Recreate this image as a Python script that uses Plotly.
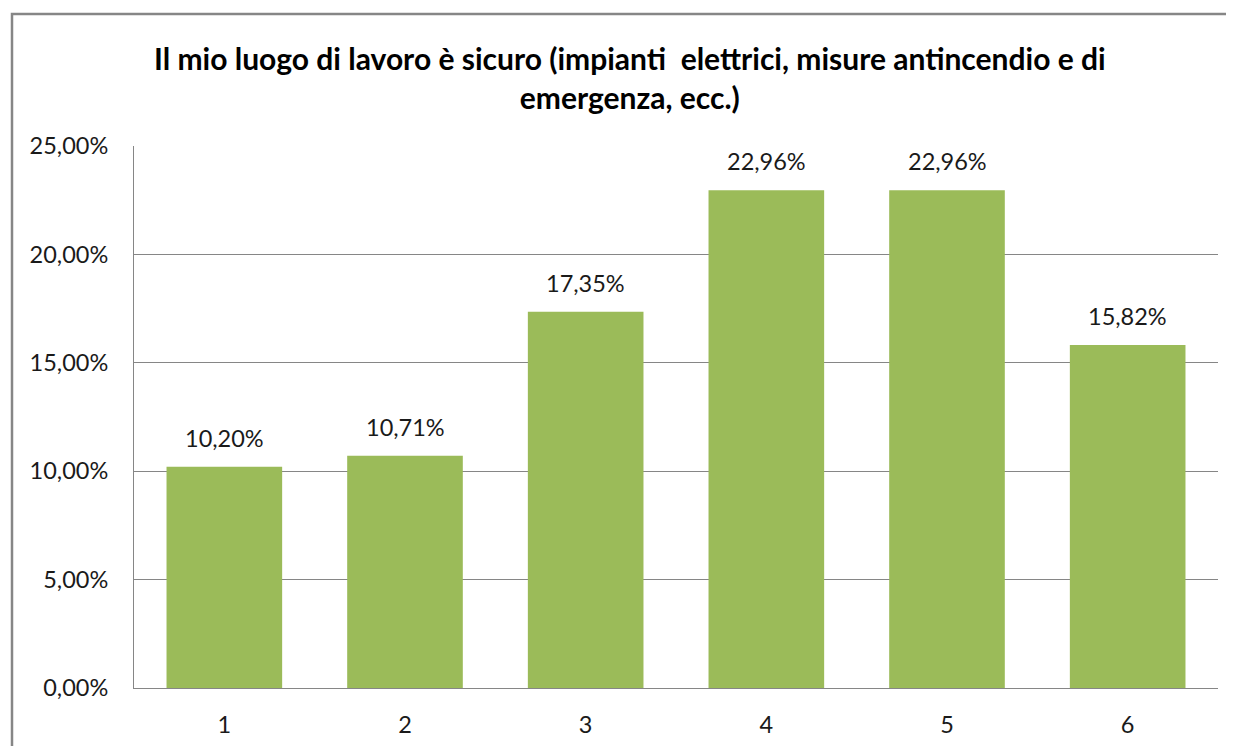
import plotly.graph_objects as go

categories = ["1", "2", "3", "4", "5", "6"]
values = [0.1020, 0.1071, 0.1735, 0.2296, 0.2296, 0.1582]
y_ticks = [0, 0.05, 0.10, 0.15, 0.20, 0.25]
title_text = "Il mio luogo di lavoro è sicuro (impianti  elettrici, misure antincendio e di<br>emergenza, ecc.)"

# the page body adds an 8px offset; the figure is sized to fill the rest
OFF = 8
W, H = 1234 - OFF, 746 - OFF
L, R, T, B = 134 - OFF, 16, 146 - OFF, 58
pw, ph = W - L - R, H - T - B
FONT = "Lato"
FS = 23.5

fig = go.Figure(go.Bar(
    x=categories, y=values,
    marker=dict(color="#9BBB59", line=dict(width=0)),
    hoverinfo="x+y",
))

annotations = [dict(
    text="<b>" + title_text + "</b>",
    xref="paper", yref="paper",
    x=(630 - OFF - L) / pw, y=1 + (T - (77 - OFF)) / ph,
    xanchor="center", yanchor="middle",
    showarrow=False, align="center",
    font=dict(family=FONT, size=30, color="black"),
)]
for i, v in enumerate(values):
    annotations.append(dict(
        x=i, y=v, xref="x", yref="y",
        text=f"{v*100:.2f}%".replace(".", ","),
        showarrow=False, yanchor="bottom", yshift=13,
        font=dict(family=FONT, size=FS, color="#1a1a1a"),
    ))

fig.update_layout(
    width=W, height=H,
    margin=dict(l=L, r=R, t=T, b=B, pad=0),
    paper_bgcolor="white", plot_bgcolor="white",
    separators=",.",
    bargap=0.36,
    showlegend=False,
    font=dict(family=FONT, size=FS, color="#1a1a1a"),
    annotations=annotations,
    shapes=[dict(
        type="rect", xref="paper", yref="paper",
        x0=(12 - OFF - L) / pw, x1=1.2,
        y0=-0.3, y1=1 + (T - (14 - OFF)) / ph,
        line=dict(color="#868686", width=2.5), layer="below",
    )],
)

fig.update_yaxes(
    range=[0, 0.25], tickvals=y_ticks, tickformat=".2%",
    showgrid=True, gridcolor="#868686", gridwidth=1,
    showline=True, linecolor="#868686", linewidth=1,
    ticks="", ticklen=0, zeroline=False, automargin=False,
    tickfont=dict(family=FONT, size=FS, color="#1a1a1a"),
    ticklabelstandoff=20,
)
fig.update_xaxes(
    type="category", automargin=False,
    showline=True, linecolor="#868686", linewidth=1,
    ticks="", showgrid=False,
    tickfont=dict(family=FONT, size=FS, color="#1a1a1a"),
    ticklabelstandoff=16,
)

fig.write_html("out.html")
